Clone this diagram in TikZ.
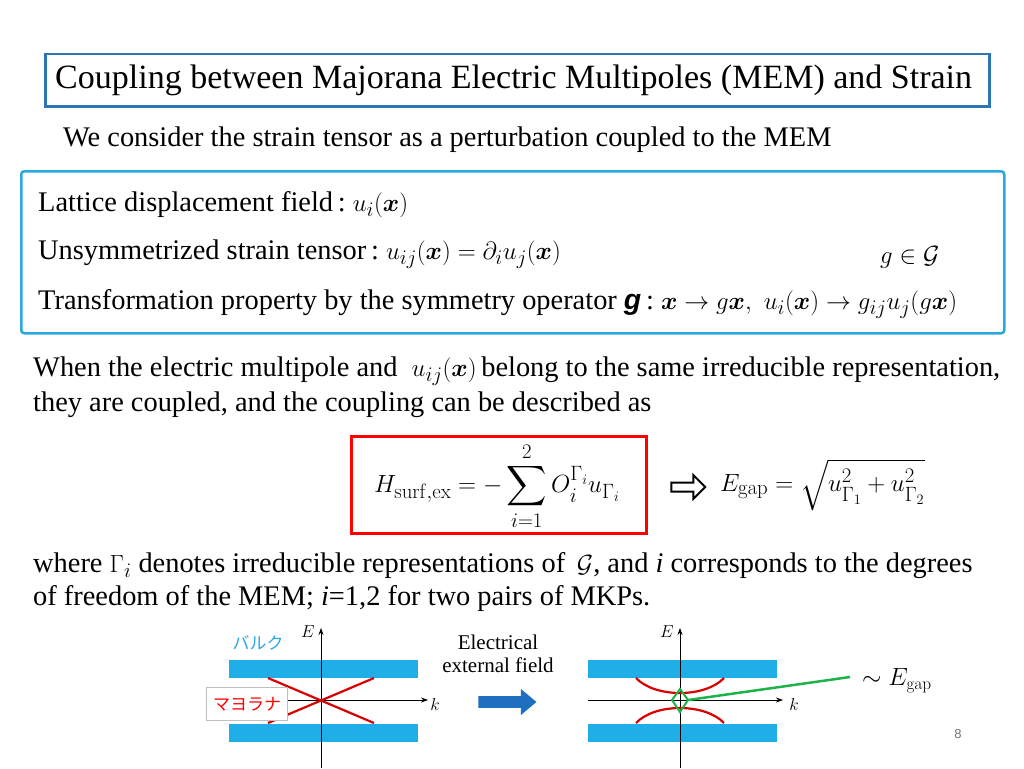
\documentclass[tikz,border=0pt]{standalone}
\usepackage{amsmath,amssymb,bm}
\usepackage[no-math]{fontspec}
\setmainfont{Liberation Serif}
\newfontfamily\jpfont{Noto Sans CJK JP}
\newfontfamily\sansf{Liberation Sans}
\usetikzlibrary{arrows.meta,shapes.arrows}
\definecolor{boxblue}{HTML}{2E75B6}
\definecolor{lblue}{HTML}{29A8E0}
\definecolor{band}{HTML}{1FAEE8}
\definecolor{arrblue}{HTML}{1F6FC0}
\definecolor{gr}{HTML}{1DB34A}
\newcommand{\Mth}[1]{{\fontsize{31.5}{34}\selectfont$#1$}}
\tikzset{
 txt/.style={anchor=west,inner sep=0pt,font=\fontsize{28.4}{32}\selectfont},
 bandbox/.style={fill=band,draw=none},
 ax/.style={-{Stealth[length=7pt,width=5pt]},line width=0.8pt},
 redl/.style={draw=red!85!black,line width=2.2pt},
}
\begin{document}
\begin{tikzpicture}[x=1pt,y=-1pt]
\useasboundingbox (0,0) rectangle (1024,768);
\node[draw=boxblue,line width=2.5pt,minimum width=944pt,minimum height=52pt,anchor=north west,inner sep=0pt] (title) at (44,53) {};
\node[txt,font=\fontsize{34}{38}\selectfont] (tt) at (55,80) {Coupling between Majorana Electric Multipoles (MEM) and Strain};
\node[txt] (sub) at (63,140) {We consider the strain tensor as a perturbation coupled to the MEM};
\node[draw=lblue,line width=2.5pt,rounded corners=3pt,minimum width=983pt,minimum height=162pt,anchor=north west,inner sep=0pt] (box2) at (20,170) {};
\node[txt] (l1) at (38,205) {Lattice displacement field\,:\ \Mth{u_i(\bm{x})}};
\node[txt] (l2) at (38,254) {Unsymmetrized strain tensor\,:\ \Mth{u_{ij}(\bm{x})=\partial_i u_j(\bm{x})}};
\node[txt] (g) at (880,257) {\Mth{g\in\mathcal{G}}};
\node[txt] (l3) at (38,304) {Transformation property by the symmetry operator {\sansf\bfseries\itshape g}\,:\ \Mth{\bm{x}\to g\bm{x},\ u_i(\bm{x})\to g_{ij}u_j(g\bm{x})}};
\node[txt] (p1) at (33,371) {When the electric multipole and \ \Mth{u_{ij}(\bm{x})}\,belong to the same irreducible representation,};
\node[txt] (p2) at (33,405) {they are coupled, and the coupling can be described as};
\node[draw=red,line width=2.5pt,minimum width=295pt,minimum height=97pt,anchor=north west,inner sep=0pt] (rb) at (350,435) {};
\node[inner sep=0pt,font=\fontsize{28}{32}\selectfont] (H) at (497,486) {$\displaystyle H_{\mathrm{surf,ex}}=-\sum_{i=1}^{2}O_i^{\Gamma_i}u_{\Gamma_i}$};
\node[single arrow,draw=black,line width=2pt,fill=white,minimum height=34pt,minimum width=24pt,single arrow head extend=5pt,inner sep=2pt] (ha) at (686,487) {};
\node[txt,font=\fontsize{28}{32}\selectfont] (E) at (720,485) {$E_{\mathrm{gap}}=\sqrt{u_{\Gamma_1}^2+u_{\Gamma_2}^2}$};
\node[txt] (w1) at (33,566) {where \Mth{\Gamma_i} denotes irreducible representations of \,\Mth{\mathcal{G}}, and \textit{i} corresponds to the degrees};
\node[txt] (w2) at (33,599) {of freedom of the MEM; \textit{i}=1,2 for two pairs of MKPs.};
% left diagram
\node[bandbox,minimum width=189pt,minimum height=18pt,inner sep=0pt,anchor=north west] (lb1) at (229,660) {};
\node[bandbox,minimum width=189pt,minimum height=18pt,inner sep=0pt,anchor=north west] (lb2) at (229,724) {};
\coordinate (lv0) at (321,768); \coordinate (lv1) at (321,628);
\coordinate (lh0) at (230,700); \coordinate (lh1) at (428,700);
\draw[ax] (lv0) -- (lv1);
\draw[ax] (lh0) -- (lh1);
\coordinate (x1) at (268,678); \coordinate (x2) at (374,723);
\coordinate (x3) at (374,678); \coordinate (x4) at (268,723);
\draw[redl] (x1) -- (x2);
\draw[redl] (x3) -- (x4);
\node[font=\fontsize{16}{18}\selectfont\itshape] (lE) at (308,632) {$E$};
\node[font=\fontsize{16}{18}\selectfont] (lk) at (435,704) {$k$};
\node[font=\fontsize{17}{20}\selectfont\jpfont,text=lblue] (bulk) at (258,643) {バルク};
\node[draw=black!25,fill=white,minimum width=81pt,minimum height=33pt,inner sep=0pt,font=\fontsize{17}{20}\selectfont\jpfont,text=red] (maj) at (247,704) {マヨラナ};
% arrow
\node[single arrow,fill=arrblue,draw=none,minimum height=58pt,minimum width=26pt,single arrow head extend=4pt,inner sep=3pt,single arrow tip angle=80] (ba) at (504,702) {};
\node[font=\fontsize{21}{24}\selectfont,align=center] (ef) at (498,654) {Electrical\\[-1pt]external field};
% right diagram
\node[bandbox,minimum width=189pt,minimum height=18pt,inner sep=0pt,anchor=north west] (rb1) at (588,660) {};
\node[bandbox,minimum width=189pt,minimum height=18pt,inner sep=0pt,anchor=north west] (rb2) at (588,724) {};
\coordinate (rv0) at (680,768); \coordinate (rv1) at (680,628);
\coordinate (rh0) at (588,700); \coordinate (rh1) at (783,700);
\draw[ax] (rv0) -- (rv1);
\draw[ax] (rh0) -- (rh1);
\coordinate (a1) at (636,678); \coordinate (a3) at (724,678);
\coordinate (b1) at (636,723); \coordinate (b3) at (724,723);
\draw[redl] (a1) .. controls (655,698) and (705,698) .. (a3);
\draw[redl] (b1) .. controls (655,703) and (705,703) .. (b3);
\coordinate (d1) at (680,689); \coordinate (d2) at (688,700); \coordinate (d3) at (680,712); \coordinate (d4) at (672,700);
\draw[gr,line width=2pt] (d1) -- (d2) -- (d3) -- (d4) -- cycle;
\coordinate (ge) at (850,677);
\draw[gr,line width=2.5pt] (d2) -- (ge);
\node[font=\fontsize{16}{18}\selectfont] (rE) at (667,632) {$E$};
\node[font=\fontsize{16}{18}\selectfont] (rk) at (794,704) {$k$};
\node[txt,font=\fontsize{25}{28}\selectfont] (eg) at (862,681) {$\sim E_{\mathrm{gap}}$};
\node[font=\fontsize{13}{15}\selectfont\sansf,text=black!55] (pn) at (958,734) {8};
\end{tikzpicture}
\end{document}
